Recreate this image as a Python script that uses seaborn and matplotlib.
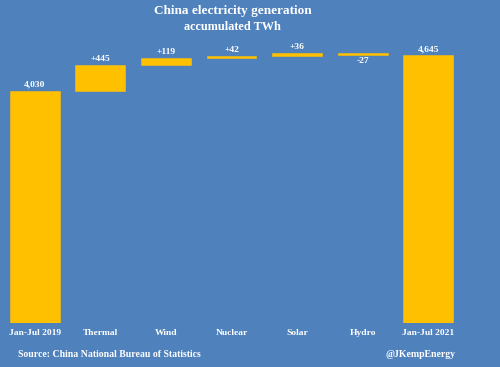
import matplotlib
matplotlib.use("Agg")
import matplotlib.pyplot as plt
import seaborn as sns
import pandas as pd

# data
categories = ["Jan-Jul 2019", "Thermal", "Wind", "Nuclear", "Solar", "Hydro", "Jan-Jul 2021"]
start_total = 4030
changes = [445, 119, 42, 36, -27]
end_total = 4645

# build waterfall bases / heights
bases = [0]
heights = [start_total]
running = start_total
for c in changes:
    bases.append(running if c >= 0 else running + c)
    heights.append(abs(c))
    running += c
bases.append(0)
heights.append(end_total)

labels = [f"{start_total:,}"] + [f"{c:+d}" for c in changes] + [f"{end_total:,}"]
df = pd.DataFrame({"category": categories, "height": heights, "base": bases})

bg = "#4F81BD"
gold = "#FFC000"
serif = ["Liberation Serif", "DejaVu Serif"]

sns.set_style("white")
plt.rcParams["font.family"] = serif

fig = plt.figure(figsize=(5, 3.67), dpi=100, facecolor=bg)
ax = fig.add_axes([0.004, 0.12, 0.918, 0.80])
ax.set_facecolor(bg)

sns.barplot(data=df, x="category", y="height", bottom=df["base"].values,
            color=gold, width=0.76, saturation=1, edgecolor=gold,
            linewidth=0.4, ax=ax)

for i, (b, h, lab) in enumerate(zip(bases, heights, labels)):
    if 0 < i < len(changes) + 1 and changes[i - 1] < 0:
        ax.text(i, b - 30, lab, ha="center", va="top", color="white",
                fontsize=6.8, fontweight="bold")
    else:
        ax.text(i, b + h + 35, lab, ha="center", va="bottom", color="white",
                fontsize=6.8, fontweight="bold")

ax.set_xlim(-0.5, 6.5)
ax.set_ylim(0, 5090)
sns.despine(ax=ax, left=True, bottom=True)
ax.set_yticks([])
ax.set_xlabel("")
ax.set_ylabel("")
ax.tick_params(axis="x", length=0, pad=4, colors="white", labelsize=6.8)
for t in ax.get_xticklabels():
    t.set_fontweight("bold")

fig.text(0.465, 0.970, "China electricity generation", ha="center", va="center",
         color="white", fontsize=9.5, fontweight="bold")
fig.text(0.465, 0.926, "accumulated TWh", ha="center", va="center",
         color="white", fontsize=8.8, fontweight="bold")
fig.text(0.036, 0.035, "Source: China National Bureau of Statistics", ha="left",
         va="center", color="white", fontsize=7, fontweight="bold")
fig.text(0.912, 0.035, "@JKempEnergy", ha="right", va="center",
         color="white", fontsize=7, fontweight="bold")

fig.savefig("out.png", dpi=100, facecolor=bg)
